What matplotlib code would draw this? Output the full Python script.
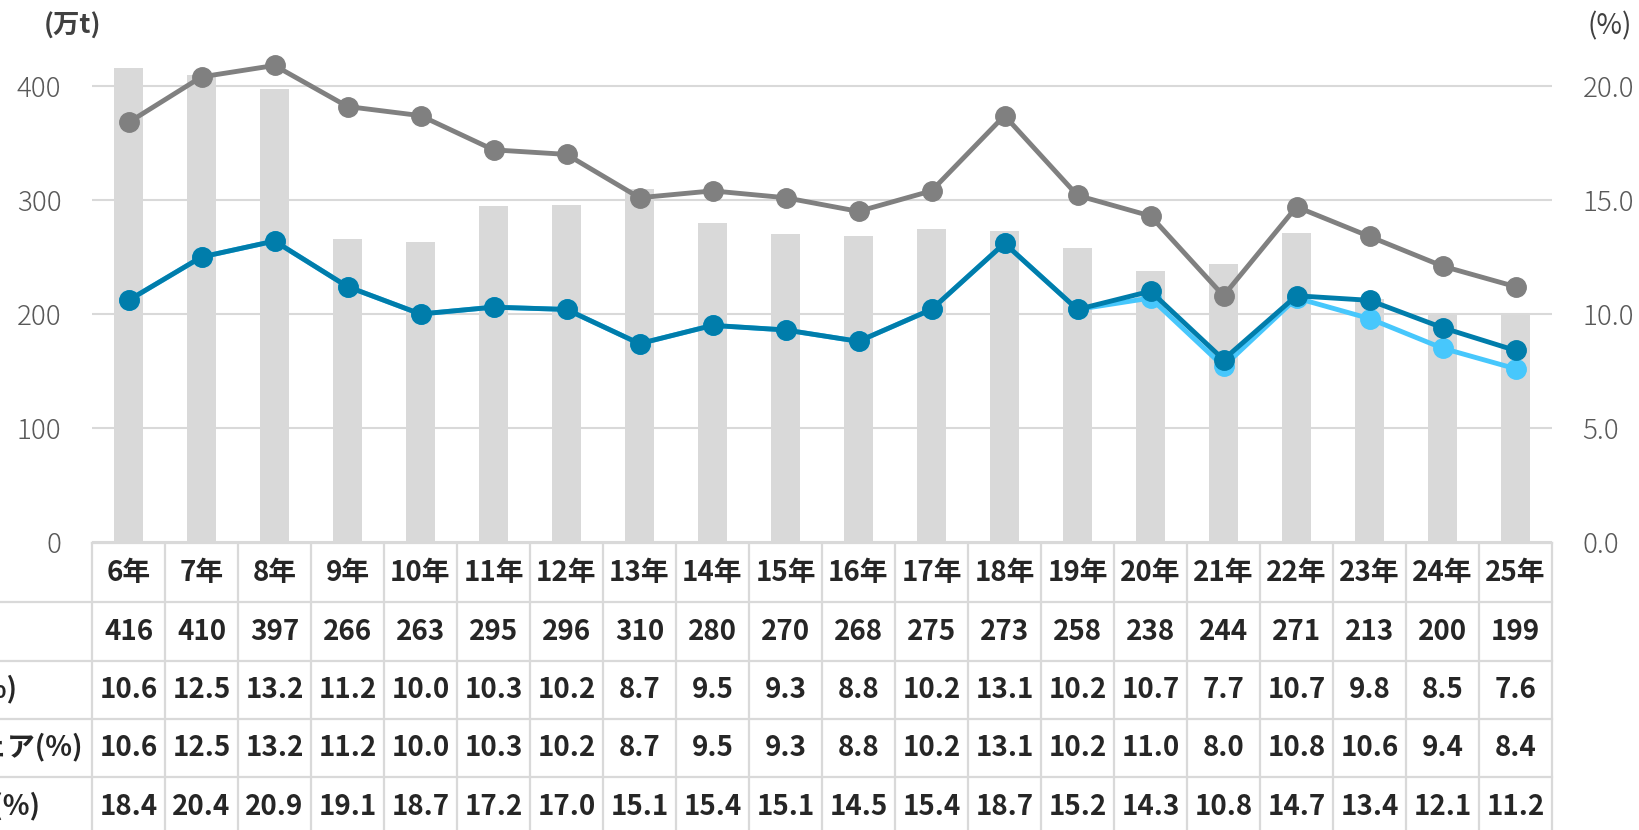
import matplotlib.pyplot as plt
from matplotlib.transforms import blended_transform_factory
from matplotlib.lines import Line2D

plt.rcParams['font.family'] = ['Noto Sans CJK JP', 'DejaVu Sans']

years = ["6年", "7年", "8年", "9年", "10年", "11年", "12年", "13年", "14年", "15年",
         "16年", "17年", "18年", "19年", "20年", "21年", "22年", "23年", "24年", "25年"]
volume = [416, 410, 397, 266, 263, 295, 296, 310, 280, 270,
          268, 275, 273, 258, 238, 244, 271, 213, 200, 199]
rate_a = [10.6, 12.5, 13.2, 11.2, 10.0, 10.3, 10.2, 8.7, 9.5, 9.3,
          8.8, 10.2, 13.1, 10.2, 10.7, 7.7, 10.7, 9.8, 8.5, 7.6]
rate_b = [10.6, 12.5, 13.2, 11.2, 10.0, 10.3, 10.2, 8.7, 9.5, 9.3,
          8.8, 10.2, 13.1, 10.2, 11.0, 8.0, 10.8, 10.6, 9.4, 8.4]
rate_c = [18.4, 20.4, 20.9, 19.1, 18.7, 17.2, 17.0, 15.1, 15.4, 15.1,
          14.5, 15.4, 18.7, 15.2, 14.3, 10.8, 14.7, 13.4, 12.1, 11.2]
row_labels = ["生産量(万t)", "在庫率(%)", "国内シェア(%)", "輸入率(%)"]
left_ticks = [0, 100, 200, 300, 400]
right_ticks = [0.0, 5.0, 10.0, 15.0, 20.0]

W, H = 1640, 830
GRID = "#d9d9d9"
TXT = "#262626"
TICK = "#595959"

fig = plt.figure(figsize=(W / 100, H / 100), dpi=100)
ax = fig.add_axes([92 / W, (H - 542) / H, (1552 - 92) / W, 513 / H])
x = list(range(len(years)))

ax.bar(x, volume, width=0.4, color=GRID, zorder=2)
ax.set_xlim(-0.5, len(years) - 0.5)
ax.set_ylim(0, 450)
ax.set_yticks(left_ticks)
ax.set_yticklabels([str(v) for v in left_ticks])
ax.set_xticks([])
ax.grid(axis="y", color=GRID, lw=1.5, zorder=0)
ax.set_axisbelow(True)
ax.tick_params(axis="y", length=0, pad=22, labelsize=20, labelcolor=TICK)
for lab in ax.get_yticklabels():
    lab.set_fontweight("light")
for s in ax.spines.values():
    s.set_visible(False)

ax2 = ax.twinx()
ax2.set_ylim(0, 22.5)
ax2.set_yticks(right_ticks)
ax2.set_yticklabels([f"{v:.1f}" for v in right_ticks])
ax2.tick_params(axis="y", length=0, pad=22, labelsize=20, labelcolor=TICK)
for lab in ax2.get_yticklabels():
    lab.set_fontweight("light")
for s in ax2.spines.values():
    s.set_visible(False)

ax2.plot(x, rate_c, color="#808080", lw=3.5, marker="o", ms=14, zorder=3)
ax2.plot(x, rate_a, color="#47c7fc", lw=3.5, marker="o", ms=14, zorder=4)
ax2.plot(x, rate_b, color="#007dab", lw=3.5, marker="o", ms=14, zorder=5)

fig.text(44 / W, 1 - 26 / H, "(万t)", ha="left", va="center", fontsize=19,
         fontweight="bold", color="#404040")
fig.text(1632 / W, 1 - 26 / H, "(%)", ha="right", va="center", fontsize=20,
         color="#404040")

# data table under the chart
tr = blended_transform_factory(ax.transData, fig.transFigure)
row_edges = [543, 602, 661, 719, 777, 836]
fy = lambda p: 1 - p / H
fig.add_artist(Line2D([92 / W, 1552 / W], [fy(543)] * 2, color=GRID, lw=1.6))
for p in row_edges[1:-1]:
    fig.add_artist(Line2D([0, 1552 / W], [fy(p)] * 2, color=GRID, lw=1.6))
for i in range(len(years) + 1):
    fig.add_artist(Line2D([i - 0.5] * 2, [fy(543), 0], color=GRID, lw=1.6,
                          transform=tr))

rows = [years, [str(v) for v in volume], [f"{v:.1f}" for v in rate_a],
        [f"{v:.1f}" for v in rate_b], [f"{v:.1f}" for v in rate_c]]
for r, vals in enumerate(rows):
    yc = fy((row_edges[r] + row_edges[r + 1]) / 2)
    for i, v in enumerate(vals):
        fig.text(i, yc, v, transform=tr, ha="center", va="center",
                 fontsize=20, fontweight="bold", color=TXT)

# row headers sit in a column left of the picture, so only their ends show
label_ends = [-8, 17, 83, 40]
for r, (lab, xe) in enumerate(zip(row_labels, label_ends)):
    yc = fy((row_edges[r + 1] + row_edges[r + 2]) / 2)
    fig.text(xe / W, yc, lab, ha="right", va="center", fontsize=20,
             fontweight="bold", color=TXT)

fig.savefig("out.png", dpi=100)
